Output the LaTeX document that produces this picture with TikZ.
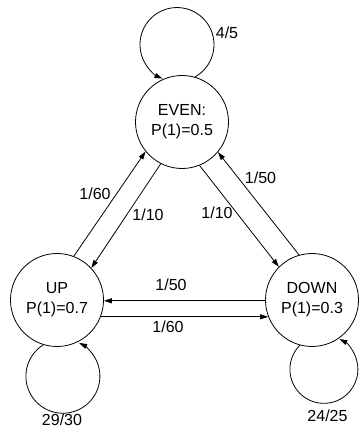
\documentclass[tikz,border=0pt]{standalone}
\usepackage{fontspec}
\setmainfont{Liberation Sans}
\usetikzlibrary{arrows.meta}
\tikzset{
  statenode/.style={circle, draw=black, fill=white, line width=0.8pt,
    minimum size=93pt, inner sep=0pt, align=center,
    font=\fontsize{16}{20}\selectfont},
  prob/.style={font=\fontsize{16}{20}\selectfont, inner sep=0pt},
  arrow/.style={-{Triangle[length=8pt,width=5pt]}, line width=0.8pt, color=black}
}

\begin{document}
\begin{tikzpicture}[x=1pt, y=1pt]
  \useasboundingbox (0,0) rectangle (359,430);

  % States
  \node[statenode] (even) at (182,308) {EVEN:\\P(1)=0.5};
  \node[statenode] (up)   at (57,130)  {UP\\P(1)=0.7};
  \node[statenode] (down) at (312,130) {DOWN\\P(1)=0.3};

  % Self loops
  \draw[arrow] (even.74) arc[start angle=-61, end angle=247, radius=37];
  \draw[arrow] (up.253) arc[start angle=122, end angle=424, radius=37];
  \draw[arrow] (down.255) arc[start angle=135, end angle=423, radius=34];

  % Transitions
  \draw[arrow] (up.69) -- (even.219);
  \draw[arrow] (even.243) -- (up.43);
  \draw[arrow] (even.292) -- (down.135);
  \draw[arrow] (down.106) -- (even.320);
  \draw[arrow] (down.181) -- (up.-1);
  \draw[arrow] (up.-21) -- (down.201);

  % Labels
  \node[prob] (p45)   at (227,397)   {4/5};
  \node[prob] (p2930) at (62,10)     {29/30};
  \node[prob] (p2425) at (327.5,14)  {24/25};
  \node[prob] (pue)   at (95,236)    {1/60};
  \node[prob] (peu)   at (148,215)   {1/10};
  \node[prob] (ped)   at (217,217)   {1/10};
  \node[prob] (pde)   at (260.5,252.5) {1/50};
  \node[prob] (pdu)   at (171,145)   {1/50};
  \node[prob] (pud)   at (168,103.5) {1/60};
\end{tikzpicture}
\end{document}
